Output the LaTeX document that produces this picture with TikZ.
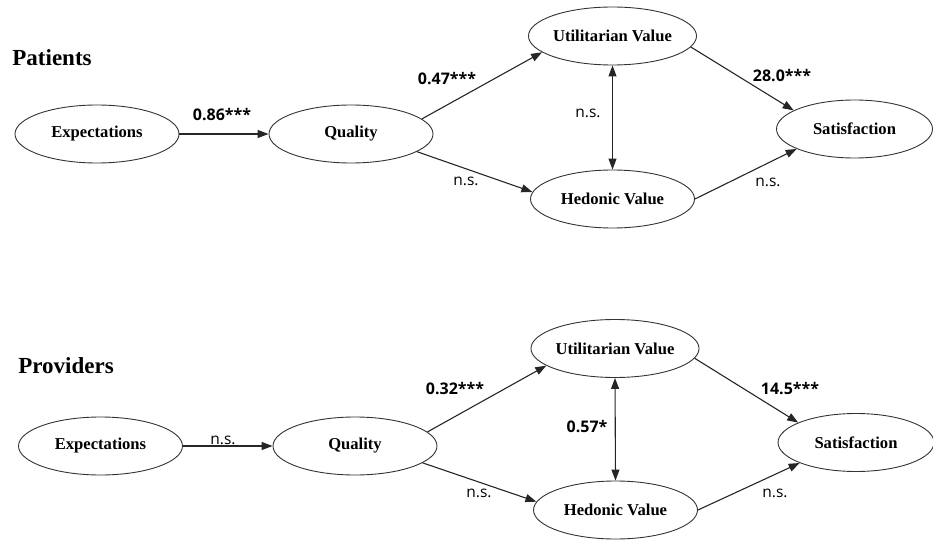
\documentclass[tikz,border=0pt]{standalone}
\usepackage{fontspec}
\setmainfont{Liberation Serif}
\newfontfamily\lblfont{Open Sans}
\usetikzlibrary{shapes.geometric,arrows.meta}
\begin{document}
\begin{tikzpicture}[x=1pt,y=-1pt,
  latent/.style={ellipse,draw=black!80,line width=0.9pt,minimum width=164pt,minimum height=58pt,inner sep=0pt,font=\fontsize{16.6}{18}\selectfont\bfseries},
  sat/.style={latent,minimum width=156pt},
  pth/.style={draw=black!85,line width=1.1pt,-{Triangle[length=11pt,width=8pt]}},
  both/.style={draw=black!85,line width=1.1pt,{Triangle[length=11pt,width=8pt]}-{Triangle[length=11pt,width=8pt]}},
  coef/.style={font=\lblfont\fontsize{16}{18}\selectfont\bfseries,inner sep=0pt},
  nslbl/.style={font=\lblfont\fontsize{15.5}{17}\selectfont,inner sep=0pt},
  group/.style={font=\fontsize{23}{26}\selectfont\bfseries,inner sep=0pt}]
\useasboundingbox (0,0) rectangle (933,540);
% ---------- Patients ----------
\node[group] (tp) at (52,58) {Patients};
\node[latent] (e1) at (97,134) {Expectations};
\node[latent] (q1) at (351,134) {Quality};
\node[latent] (u1) at (612.5,36) {Utilitarian Value};
\node[latent] (h1) at (612.5,199) {Hedonic Value};
\node[sat] (s1) at (854.5,129) {Satisfaction};
\draw[pth] (e1.east) -- (q1.west);
\draw[pth] (q1.12) -- (u1.193);
\draw[pth] (q1.-15) -- (h1.175);
\draw[pth] (u1.-8) -- (s1.163);
\draw[pth] (h1.0) -- (s1.199);
\draw[both] (u1.south) -- (h1.north);
\node[coef] (l1) at (222,115) {0.86***};
\node[coef] (l2) at (447,79) {0.47***};
\node[nslbl] (l3) at (466,181) {n.s.};
\node[nslbl] (l4) at (588,113) {n.s.};
\node[coef] (l5) at (782,76) {28.0***};
\node[nslbl] (l6) at (768,182) {n.s.};
% ---------- Providers ----------
\node[group] (tv) at (66,366) {Providers};
\node[latent] (e2) at (100.5,446) {Expectations};
\node[latent] (q2) at (355,446) {Quality};
\node[latent] (u2) at (615,348.5) {Utilitarian Value};
\node[latent] (h2) at (615.5,510) {Hedonic Value};
\node[sat] (s2) at (856,442.5) {Satisfaction};
\draw[pth] (e2.east) -- (q2.west);
\draw[pth] (q2.11) -- (u2.194);
\draw[pth] (q2.-14) -- (h2.174);
\draw[pth] (u2.-7) -- (s2.161);
\draw[pth] (h2.0) -- (s2.200);
\draw[both] (u2.south) -- (h2.north);
\node[nslbl] (m1) at (223,440) {n.s.};
\node[coef] (m2) at (455,389) {0.32***};
\node[nslbl] (m3) at (479,493) {n.s.};
\node[coef] (m4) at (587,427) {0.57*};
\node[coef] (m5) at (790,389) {14.5***};
\node[nslbl] (m6) at (775,493) {n.s.};
\end{tikzpicture}
\end{document}
